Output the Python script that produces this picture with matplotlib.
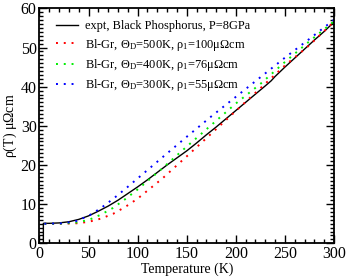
import matplotlib
matplotlib.use("Agg")
import matplotlib.pyplot as plt
from matplotlib.ticker import MultipleLocator

plt.rcParams['font.family'] = ['Liberation Serif', 'DejaVu Serif']
plt.rcParams['mathtext.default'] = 'regular'

# experimental data (Black Phosphorus, P=8GPa)
T_expt = [4, 4, 10, 20, 30, 40, 50, 60, 70, 80, 90, 100, 110, 120, 130, 140, 150,
          160, 170, 180, 190, 200, 210, 220, 230, 236, 240, 250, 260, 270, 280, 290, 300]
rho_expt = [0, 5.1, 5.1, 5.2, 5.5, 6.1, 7.0, 8.2, 9.5, 11.0, 12.7, 14.4, 16.2, 18.1, 20.0,
            21.8, 23.6, 25.6, 27.7, 29.7, 31.8, 33.9, 36.0, 38.1, 40.2, 41.5, 42.6, 45.0,
            47.3, 49.6, 51.9, 54.1, 56.5]

# Bloch-Gruneisen curves
T_bg = [5, 25, 37.5, 50, 62.5, 75, 87.5, 100, 125, 150, 175, 200, 225, 250, 275, 300]
rho_500 = [5.0, 5.02, 5.1, 5.47, 6.3, 7.52, 9.3, 11.4, 16.5, 22.2, 28.0, 33.8, 39.6, 45.4, 50.6, 56.6]
rho_400 = [5.0, 5.04, 5.3, 5.94, 7.3, 9.04, 11.3, 13.75, 19.1, 24.7, 30.2, 35.7, 40.7, 46.3, 51.6, 56.7]
rho_300 = [5.0, 5.11, 5.68, 7.0, 8.97, 11.33, 13.9, 16.56, 21.9, 27.2, 32.4, 37.4, 42.4, 47.4, 52.2, 57.1]

labels = ['expt, Black Phosphorus, P=8GPa',
          r'Bl-Gr, $\Theta_D$=500K, $\rho_1$=100$\mu\Omega$cm',
          r'Bl-Gr, $\Theta_D$=400K, $\rho_1$=76$\mu\Omega$cm',
          r'Bl-Gr, $\Theta_D$=300K, $\rho_1$=55$\mu\Omega$cm']

fig = plt.figure(figsize=(3.49, 2.79), dpi=100)
ax = fig.add_axes([0.113, 0.128, 0.844, 0.842])

dot = (0, (1, 3))
ax.plot(T_expt, rho_expt, color='black', lw=1.0, label=labels[0])
ax.plot(T_bg, rho_500, color='#ff0000', lw=1.4, linestyle=dot, label=labels[1])
ax.plot(T_bg, rho_400, color='#00ee00', lw=1.4, linestyle=dot, label=labels[2])
ax.plot(T_bg, rho_300, color='#0000ff', lw=1.4, linestyle=dot, label=labels[3])

ax.set_xlim(0, 300)
ax.set_ylim(0, 60)
ax.xaxis.set_major_locator(MultipleLocator(50))
ax.xaxis.set_minor_locator(MultipleLocator(10))
ax.yaxis.set_major_locator(MultipleLocator(10))
ax.yaxis.set_minor_locator(MultipleLocator(1))
ax.tick_params(which='both', direction='in', top=True, right=True, labelsize=11.5, width=1.0)
ax.tick_params(which='major', length=6, pad=2)
ax.tick_params(which='minor', length=3)
for s in ax.spines.values():
    s.set_linewidth(1.3)

ax.set_xlabel('Temperature (K)', fontsize=10, labelpad=0)
ax.set_ylabel(r'$\rho$(T) $\mu\Omega$cm', fontsize=10, labelpad=1)

ax.legend(loc='upper left', bbox_to_anchor=(0.03, 0.98), frameon=False, fontsize=8.9,
          handlelength=1.8, handletextpad=0.6, labelspacing=0.35, borderaxespad=0.2)

fig.savefig('out.png', dpi=100)
